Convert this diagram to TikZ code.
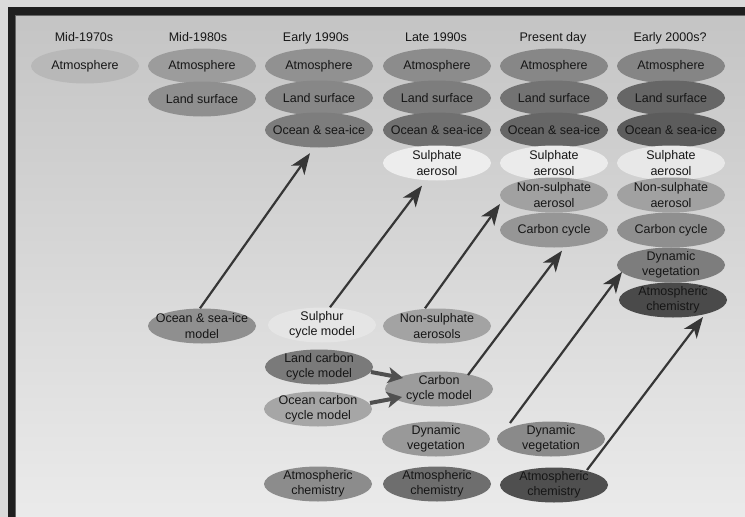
\documentclass[tikz,border=0pt]{standalone}
\usepackage{fontspec}
\setmainfont{Liberation Sans}
\usetikzlibrary{shapes.geometric,arrows.meta}
\definecolor{txt}{HTML}{161616}
\definecolor{arrc}{HTML}{363636}
\definecolor{sarc}{HTML}{505050}
\definecolor{outerbg}{HTML}{DADADA}
\definecolor{framec}{HTML}{1F1F1F}
\begin{document}
\begin{tikzpicture}[x=1pt,y=-1pt,
  el/.style={ellipse, minimum width=108pt, minimum height=35pt, inner xsep=-45pt, inner ysep=-12pt,
    font=\fontsize{12.5}{15.5}\selectfont, align=center, text=txt},
  hdr/.style={font=\fontsize{12.5}{15}\selectfont, text=txt, anchor=base},
  arr/.style={draw=arrc, line width=2.2pt, -{Stealth[length=21pt,width=16pt,inset=6pt]}},
  sarr/.style={draw=sarc, line width=4pt, -{Stealth[length=15pt,width=16pt,inset=4pt]}}]
\useasboundingbox (0,0) rectangle (745,517);
% frame and background
\fill[outerbg] (0,0) rectangle (745,517);
\fill[framec] (8,7) rectangle (745,517);
\shade[top color=black!23, bottom color=black!8] (15,15) rectangle (745,517);
\draw[black!60, line width=0.8pt] (15,517) -- (15,15) -- (745,15);
% headers
\node[hdr] (h1) at (84,41.5) {Mid-1970s};
\node[hdr] (h2) at (198,41.5) {Mid-1980s};
\node[hdr] (h3) at (316,41.5) {Early 1990s};
\node[hdr] (h4) at (436,41.5) {Late 1990s};
\node[hdr] (h5) at (553,41.5) {Present day};
\node[hdr] (h6) at (670,41.5) {Early 2000s?};
% column 1
\node[el, fill=black!28] (a1) at (85,66) {Atmosphere};
% column 2
\node[el, fill=black!39] (a2) at (202,66) {Atmosphere};
\node[el, fill=black!44] (l2) at (202,99) {Land surface};
% column 3
\node[el, fill=black!43] (a3) at (319,66) {Atmosphere};
\node[el, fill=black!47] (l3) at (319,98) {Land surface};
\node[el, fill=black!51] (o3) at (319,130) {Ocean \& sea-ice};
% column 4
\node[el, fill=black!45] (a4) at (437,66) {Atmosphere};
\node[el, fill=black!51] (l4) at (437,98) {Land surface};
\node[el, fill=black!56] (o4) at (437,130) {Ocean \& sea-ice};
\node[el, fill=black!7] (s4) at (437,163) {Sulphate\\aerosol};
% column 5
\node[el, fill=black!47] (a5) at (554,66) {Atmosphere};
\node[el, fill=black!55] (l5) at (554,98) {Land surface};
\node[el, fill=black!60] (o5) at (554,130) {Ocean \& sea-ice};
\node[el, fill=black!8] (s5) at (554,163) {Sulphate\\aerosol};
\node[el, fill=black!37] (n5) at (554,195) {Non-sulphate\\aerosol};
\node[el, fill=black!41] (c5) at (554,230) {Carbon cycle};
% column 6
\node[el, fill=black!48] (a6) at (671,66) {Atmosphere};
\node[el, fill=black!60] (l6) at (671,98) {Land surface};
\node[el, fill=black!64] (o6) at (671,130) {Ocean \& sea-ice};
\node[el, fill=black!9] (s6) at (671,163) {Sulphate\\aerosol};
\node[el, fill=black!37] (n6) at (671,195) {Non-sulphate\\aerosol};
\node[el, fill=black!44] (c6) at (671,230) {Carbon cycle};
\node[el, fill=black!51] (d6) at (671,265) {Dynamic\\vegetation};
\node[el, fill=black!71] (ch6) at (673,300) {Atmospheric\\chemistry};
% lower components
\node[el, fill=black!44] (osm) at (202,326) {Ocean \& sea-ice\\model};
\node[el, fill=black!10] (scm) at (322,325) {Sulphur\\cycle model};
\node[el, fill=black!36] (nsa) at (437,326) {Non-sulphate\\aerosols};
\node[el, fill=black!52] (lcm) at (319,367) {Land carbon\\cycle model};
\node[el, fill=black!35] (ocm) at (318,409) {Ocean carbon\\cycle model};
\node[el, fill=black!39] (ccm) at (439,389) {Carbon\\cycle model};
\node[el, fill=black!40] (dv4) at (436,439) {Dynamic\\vegetation};
\node[el, fill=black!46] (dv5) at (551,439) {Dynamic\\vegetation};
\node[el, fill=black!45] (ac3) at (318,484) {Atmospheric\\chemistry};
\node[el, fill=black!57] (ac4) at (437,484) {Atmospheric\\chemistry};
\node[el, fill=black!69] (ac5) at (554,485) {Atmospheric\\chemistry};
% long arrows
\draw[arr] ([xshift=-2pt]osm.north) -- ([xshift=-9pt,yshift=-5.5pt]o3.south);
\draw[arr] ([xshift=8pt]scm.north) -- ([xshift=-15pt,yshift=-5pt]s4.south);
\draw[arr] ([xshift=-12pt]nsa.north) -- ([xshift=-54pt,yshift=-9pt]n5.center);
\draw[arr] ([xshift=29pt,yshift=14pt]ccm.center) -- ([xshift=8pt,yshift=-3pt]c5.south);
\draw[arr] ([xshift=-41pt,yshift=16pt]dv5.center) -- ([xshift=-49pt,yshift=-7pt]d6.center);
\draw[arr] ([xshift=33pt,yshift=15pt]ac5.center) -- ([xshift=30pt,yshift=-17pt]ch6.center);
% short arrows
\draw[sarr] ([xshift=52pt,yshift=-5pt]lcm.center) -- ([xshift=-36pt,yshift=11pt]ccm.center);
\draw[sarr] ([xshift=52pt,yshift=6pt]ocm.center) -- ([xshift=-37pt,yshift=-8pt]ccm.center);
\end{tikzpicture}
\end{document}
